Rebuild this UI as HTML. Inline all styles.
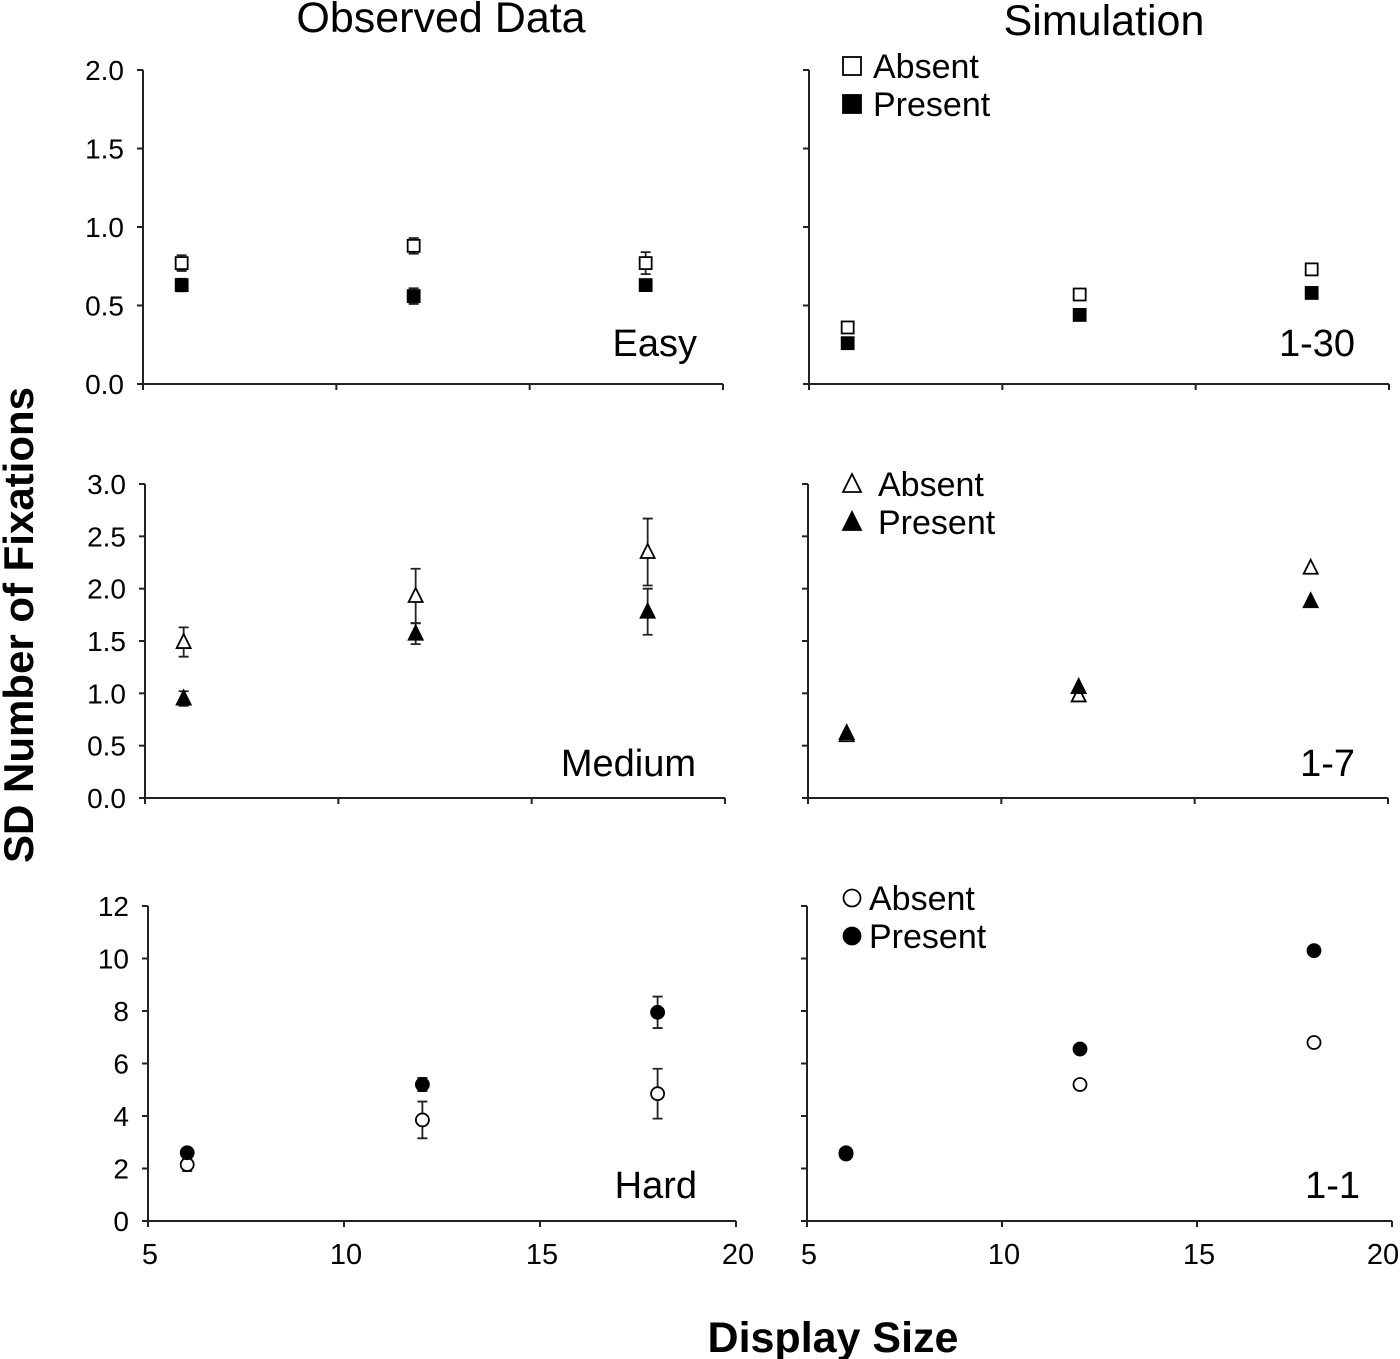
<!DOCTYPE html>
<html><head><meta charset="utf-8"><style>
html,body{margin:0;padding:0;background:#fff;}
svg{display:block;font-family:"Liberation Sans",Arial,sans-serif;}
</style></head><body>
<svg id="chart" width="1400" height="1359" viewBox="0 0 1400 1359" xmlns="http://www.w3.org/2000/svg">
<text x="441" y="32" font-size="43" text-anchor="middle">Observed Data</text>
<text x="1104" y="35" font-size="43" text-anchor="middle">Simulation</text>
<text x="833" y="1352" font-size="43" font-weight="bold" text-anchor="middle">Display Size</text>
<text transform="translate(33,625) rotate(-90)" font-size="42" font-weight="bold" text-anchor="middle">SD Number of Fixations</text>
<g id="plots"></g>
</svg>
<script>
const displaySizes = [6, 12, 18];
const xTicks = [5, 10, 15, 20];
// Easy
const easyObsAbsent = [0.77, 0.88, 0.77];
const easyObsAbsentErr = [0.05, 0.05, 0.07];
const easyObsPresent = [0.63, 0.56, 0.63];
const easyObsPresentErr = [0.04, 0.05, 0.02];
const easySimAbsent = [0.36, 0.57, 0.73];
const easySimPresent = [0.26, 0.44, 0.58];
const easyTicks = ["0.0","0.5","1.0","1.5","2.0"];
// Medium
const medObsAbsent = [1.49, 1.93, 2.35];
const medObsAbsentErr = [0.14, 0.26, 0.32];
const medObsPresent = [0.95, 1.57, 1.78];
const medObsPresentErr = [0.07, 0.10, 0.22];
const medSimAbsent = [0.60, 0.98, 2.20];
const medSimPresent = [0.62, 1.06, 1.88];
const medTicks = ["0.0","0.5","1.0","1.5","2.0","2.5","3.0"];
// Hard
const hardObsAbsent = [2.15, 3.85, 4.85];
const hardObsAbsentErr = [0.25, 0.7, 0.95];
const hardObsPresent = [2.6, 5.2, 7.95];
const hardObsPresentErr = [0.1, 0.25, 0.6];
const hardSimAbsent = [2.55, 5.2, 6.8];
const hardSimPresent = [2.6, 6.55, 10.3];
const hardTicks = ["0","2","4","6","8","10","12"];

const NS = "http://www.w3.org/2000/svg";
const root = document.getElementById("plots");
function mk(tag, attrs, parent) {
  const e = document.createElementNS(NS, tag);
  for (const k in attrs) e.setAttribute(k, attrs[k]);
  (parent || root).appendChild(e);
  return e;
}
function marker(shape, filled, cx, cy, g, size) {
  const s = size || 7;
  const fill = filled ? "#000" : "#fff";
  let m;
  if (shape === "square") m = mk("rect", {x: cx - s, y: cy - s, width: 2 * s, height: 2 * s, fill: fill, stroke: "#000", "stroke-width": 1.8}, g);
  else if (shape === "tri") m = mk("polygon", {points: `${cx},${cy - s - 1} ${cx - s},${cy + s - 1} ${cx + s},${cy + s - 1}`, fill: fill, stroke: "#000", "stroke-width": 1.8}, g);
  else m = mk("circle", {cx: cx, cy: cy, r: s - 0.5, fill: fill, stroke: "#000", "stroke-width": 1.8}, g);
  return m;
}

function panel(cfg) {
  const g = mk("g", {});
  
  
  const xs = v => cfg.x0 + (v - 5) / 15 * (cfg.x1 - cfg.x0);
  const ys = v => cfg.y0 - v / cfg.ymax * (cfg.y0 - cfg.yTop);
  const ax = mk("path", {d: `M${cfg.x0},${cfg.yTop} V${cfg.y0} H${cfg.x1}`, fill: "none", stroke: "#222", "stroke-width": 2}, g);
  
  
  cfg.ticks.forEach((t, i) => {
    const v = i * cfg.ymax / (cfg.ticks.length - 1);
    const y = ys(v);
    mk("line", {x1: cfg.x0 - 6, x2: cfg.x0, y1: y, y2: y, stroke: "#222", "stroke-width": 2}, g);
    if (cfg.yLabels) {
      const tx = mk("text", {x: cfg.x0 - 19, y: y + 10, "font-size": 28, "text-anchor": "end"}, g);
      tx.textContent = t;
      
      
    }
  });
  xTicks.forEach((t, i) => {
    const x = xs(t);
    mk("line", {x1: x, x2: x, y1: cfg.y0, y2: cfg.y0 + 6, stroke: "#222", "stroke-width": 2}, g);
    if (cfg.xLabels) {
      const shift = (i === xTicks.length - 1) ? cfg.lastShift : 2;
      const tx = mk("text", {x: x + shift, y: cfg.y0 + 43, "font-size": 29, "text-anchor": "middle"}, g);
      tx.textContent = t;
      
      
    }
  });
  const series = [[cfg.absent, cfg.absentErr, false, "absent"], [cfg.present, cfg.presentErr, true, "present"]];
  series.forEach(([vals, errs, filled, nm]) => {
    vals.forEach((v, i) => {
      const cx = xs(displaySizes[i]), cy = ys(v);
      if (errs) {
        const e = errs[i];
        const yt = ys(v + e), yb = ys(v - e);
        const eb = mk("path", {d: `M${cx},${yt} V${yb} M${cx - 5},${yt} H${cx + 5} M${cx - 5},${yb} H${cx + 5}`, stroke: "#222", "stroke-width": 1.8, fill: "none"}, g);
        
        
      }
      const m = marker(cfg.shape, filled, cx, cy, g, cfg.msize);
      
      
    });
  });
  const lb = mk("text", {x: cfg.labelX, y: cfg.labelY, "font-size": 38, "text-anchor": "end"}, g);
  lb.textContent = cfg.label;
  
  
  if (cfg.legendY) {
    [["Absent", false], ["Present", true]].forEach(([t, f], i) => {
      const ly = cfg.legendY + i * 38;
      const lm = marker(cfg.shape, f, 852, ly, g, 9);
      
      
      const lt = mk("text", {x: cfg.legendTx, y: ly + 12, "font-size": 34}, g);
      lt.textContent = t;
      
      
    });
  }
}

panel({name: "easy-observed", x0: 143, x1: 723, y0: 384, yTop: 70, ymax: 2, ticks: easyTicks, yLabels: true, xLabels: false, lastShift: 0, absent: easyObsAbsent, absentErr: easyObsAbsentErr, present: easyObsPresent, presentErr: easyObsPresentErr, shape: "square", msize: 6, label: "Easy", labelX: 697, labelY: 356});
panel({name: "easy-simulation", x0: 809, x1: 1389, y0: 384, yTop: 70, ymax: 2, ticks: easyTicks, yLabels: false, xLabels: false, lastShift: 0, absent: easySimAbsent, present: easySimPresent, shape: "square", msize: 6, label: "1-30", labelX: 1355, labelY: 356, legendY: 66, legendTx: 873});
panel({name: "medium-observed", x0: 145, x1: 725, y0: 798, yTop: 484, ymax: 3, ticks: medTicks, yLabels: true, xLabels: false, lastShift: 0, absent: medObsAbsent, absentErr: medObsAbsentErr, present: medObsPresent, presentErr: medObsPresentErr, shape: "tri", msize: 7, label: "Medium", labelX: 696, labelY: 776});
panel({name: "medium-simulation", x0: 808, x1: 1388, y0: 798, yTop: 484, ymax: 3, ticks: medTicks, yLabels: false, xLabels: false, lastShift: 0, absent: medSimAbsent, present: medSimPresent, shape: "tri", msize: 7, label: "1-7", labelX: 1355, labelY: 776, legendY: 484, legendTx: 878});
panel({name: "hard-observed", x0: 148, x1: 736, y0: 1221, yTop: 906, ymax: 12, ticks: hardTicks, yLabels: true, xLabels: true, lastShift: 2, absent: hardObsAbsent, absentErr: hardObsAbsentErr, present: hardObsPresent, presentErr: hardObsPresentErr, shape: "circle", msize: 7, label: "Hard", labelX: 697, labelY: 1198});
panel({name: "hard-simulation", x0: 807, x1: 1392, y0: 1221, yTop: 906, ymax: 12, ticks: hardTicks, yLabels: false, xLabels: true, lastShift: -9, absent: hardSimAbsent, present: hardSimPresent, shape: "circle", msize: 7, label: "1-1", labelX: 1360, labelY: 1198, legendY: 898, legendTx: 869});
</script>
</body></html>
